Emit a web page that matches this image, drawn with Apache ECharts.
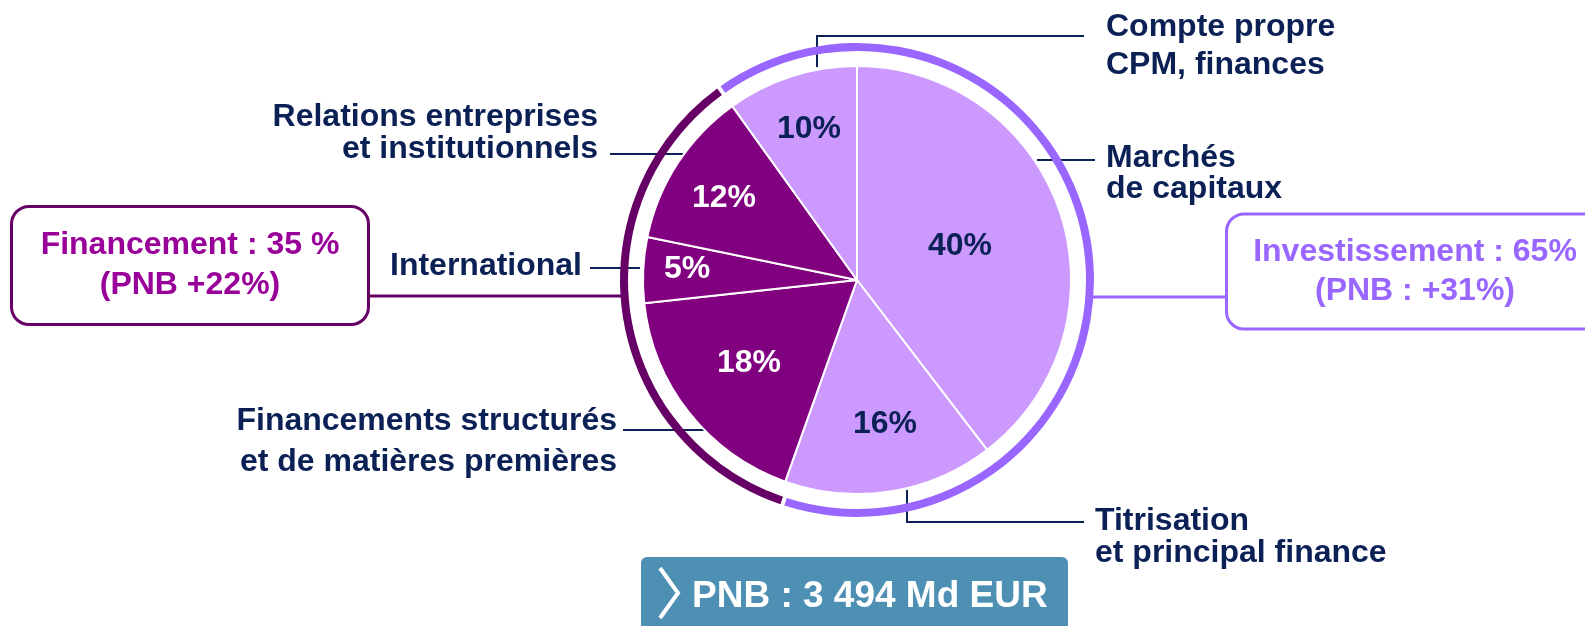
<!DOCTYPE html>
<html>
<head>
<meta charset="utf-8">
<script src="https://cdn.jsdelivr.net/npm/echarts@6/dist/echarts.min.js"></script>
<style>
  html, body { margin: 0; padding: 0; background: #fff; }
  #main { width: 1585px; height: 626px; }
</style>
</head>
<body>
<div id="main"></div>
<script>
// slices, clockwise from 12 o'clock
var sliceNames = [
  "Marchés\nde capitaux",
  "Titrisation\net principal finance",
  "Financements structurés\net de matières premières",
  "International",
  "Relations entreprises\net institutionnels",
  "Compte propre\nCPM, finances"
];
var sliceValues = [40, 16, 18, 5, 12, 10];
var sliceGroup = ["inv", "inv", "fin", "fin", "fin", "inv"];

// outer ring : métiers
var ringNames = ["Investissement : 65%\n(PNB : +31%)", "Financement : 35 %\n(PNB +22%)"];
var ringValues = [65, 35];

var pnbTotal = "3 494";

var NAVY = "#0b2155";
var FONT = "'Liberation Sans', Arial, sans-serif";
var FS = 32;
var colors = {
  inv: { slice: "#cc99ff", text: NAVY },
  fin: { slice: "#800080", text: "#ffffff" }
};
var CX = 857, CY = 280;

// where the % labels sit
var pctPos = [[960, 246], [885, 424], [749, 363], [687, 269], [724, 198], [809, 129]];

// outside name labels + leader lines
var namePos = [
  { x: 1106, y: 174, align: "left", lh: 31, line: [[1037, 160], [1066, 160], [1095, 160]] },
  { x: 1095, y: 537, align: "left", lh: 32, line: [[907, 490], [907, 522], [1084, 522]] },
  { x: 617, y: 442, align: "right", lh: 41, line: [[708, 430], [665, 430], [623, 430]] },
  { x: 582, y: 266, align: "right", lh: 31, line: [[640, 268], [615, 268], [590, 268]] },
  { x: 598, y: 133, align: "right", lh: 32, line: [[686, 154], [648, 154], [610, 154]] },
  { x: 1106, y: 46, align: "left", lh: 38, line: [[817, 67], [817, 36], [1084, 36]] }
];

var ringPos = [
  { x: 1415, y: 271.5, line: [[1093, 297], [1160, 297], [1228, 297]] },
  { x: 190, y: 265.5, line: [[621, 296], [494, 296], [367, 296]] }
];

var sum = sliceValues.reduce(function (a, b) { return a + b; }, 0);
// ring starts where the last slice starts
var ringStart = 90 + 360 * sliceValues[sliceValues.length - 1] / sum;

var pieData = sliceValues.map(function (v, i) {
  var c = colors[sliceGroup[i]];
  return {
    name: sliceNames[i],
    value: v,
    itemStyle: { color: c.slice },
    label: { color: c.text }
  };
});

var labelData = sliceValues.map(function (v, i) {
  return {
    name: sliceNames[i],
    value: v,
    label: { align: namePos[i].align, lineHeight: namePos[i].lh }
  };
});

var ringData = [
  {
    name: ringNames[0], value: ringValues[0],
    itemStyle: { color: "#9966ff" },
    label: { color: "#9966ff", borderColor: "#9966ff", width: 374, padding: [18, 0, 16, 0], lineHeight: 39 },
    labelLine: { lineStyle: { color: "#9966ff" } }
  },
  {
    name: ringNames[1], value: ringValues[1],
    itemStyle: { color: "#660066" },
    label: { color: "#990099", borderColor: "#660066", width: 354, padding: [20, 0, 15, 0], lineHeight: 40 },
    labelLine: { lineStyle: { color: "#660066" } }
  }
];

var myChart = echarts.init(document.getElementById("main"));

var option = {
  backgroundColor: "#fff",
  animation: false,
  textStyle: { fontFamily: FONT },
  series: [
    {
      // outer ring
      type: "pie",
      silent: true,
      center: [CX, CY],
      radius: [229, 237],
      startAngle: ringStart,
      padAngle: 1,
      avoidLabelOverlap: false,
      label: {
        show: true,
        position: "outside",
        formatter: "{b}",
        fontFamily: FONT,
        fontWeight: "bold",
        fontSize: FS,
        align: "center",
        verticalAlign: "middle",
        backgroundColor: "#fff",
        borderWidth: 3,
        borderRadius: 16
      },
      labelLine: { show: true, lineStyle: { width: 3 } },
      labelLayout: function (p) {
        var r = ringPos[p.dataIndex];
        return { x: r.x, y: r.y, align: "center", verticalAlign: "middle", labelLinePoints: r.line };
      },
      data: ringData
    },
    {
      // slices with % inside
      type: "pie",
      silent: true,
      center: [CX, CY],
      radius: [0, 214],
      startAngle: 90,
      itemStyle: { borderColor: "#fff", borderWidth: 2 },
      label: {
        show: true,
        position: "inside",
        formatter: "{c}%",
        fontFamily: FONT,
        fontWeight: "bold",
        fontSize: FS
      },
      labelLayout: function (p) {
        var q = pctPos[p.dataIndex];
        return { x: q[0], y: q[1], align: "center", verticalAlign: "middle" };
      },
      data: pieData
    },
    {
      // same slices, only for the outside names
      type: "pie",
      silent: true,
      center: [CX, CY],
      radius: [0, 214],
      startAngle: 90,
      avoidLabelOverlap: false,
      itemStyle: { color: "rgba(0,0,0,0)", borderWidth: 0 },
      label: {
        show: true,
        position: "outside",
        formatter: "{b}",
        fontFamily: FONT,
        fontWeight: "bold",
        fontSize: FS,
        color: NAVY
      },
      labelLine: { show: true, lineStyle: { color: NAVY, width: 2 } },
      labelLayout: function (p) {
        var n = namePos[p.dataIndex];
        return { x: n.x, y: n.y, align: n.align, verticalAlign: "middle", labelLinePoints: n.line };
      },
      data: labelData
    }
  ],
  graphic: [
    {
      type: "group",
      left: 641,
      top: 557,
      children: [
        { type: "rect", shape: { x: 0, y: 0, width: 427, height: 80, r: 6 }, style: { fill: "#4e90b3" } },
        {
          type: "polyline",
          shape: { points: [[19, 11], [37, 36], [19, 61]] },
          style: { stroke: "#fff", lineWidth: 4, fill: null }
        },
        {
          type: "text",
          x: 51, y: 40,
          style: {
            text: "PNB : " + pnbTotal + " Md EUR",
            fill: "#fff",
            font: "bold 37px " + FONT,
            verticalAlign: "middle"
          }
        }
      ]
    }
  ]
};

myChart.setOption(option);
</script>
</body>
</html>
